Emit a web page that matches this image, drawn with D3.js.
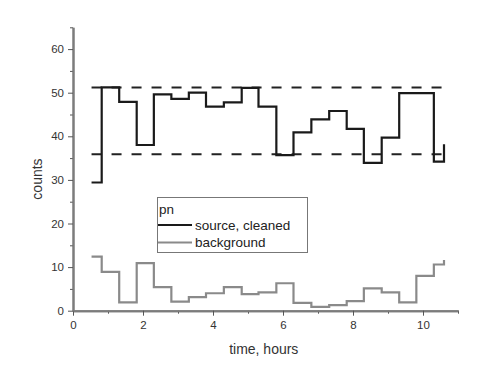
<!DOCTYPE html>
<html>
<head>
<meta charset="utf-8">
<script src="https://cdn.jsdelivr.net/npm/d3@7"></script>
<style>
  html, body { margin: 0; padding: 0; background: #fff; }
  svg { display: block; font-family: "Liberation Sans", Arial, sans-serif; }
</style>
</head>
<body>
<svg id="chart" width="488" height="388"></svg>
<script>
// Bin edges (hours) — step starts, last entry is the end of the final bin
const binEdges = [0.53, 0.82, 1.32, 1.82, 2.31, 2.81, 3.31, 3.80, 4.31, 4.82, 5.30, 5.81, 6.30, 6.81, 7.32, 7.82, 8.31, 8.82, 9.32, 9.81, 10.31, 10.60];
// source, cleaned (counts) per bin, last value is the closing end point
const sourceCounts = [29.4, 51.2, 47.9, 38.0, 49.6, 48.6, 50.0, 46.8, 47.8, 51.1, 46.8, 35.7, 40.9, 43.9, 45.8, 41.7, 33.9, 39.7, 49.9, 49.9, 34.2, 38.2];
// background (counts) per bin, last value is the closing end point
const backgroundCounts = [12.4, 8.9, 1.9, 10.9, 5.4, 2.1, 3.1, 4.0, 5.4, 3.8, 4.2, 6.3, 1.8, 0.9, 1.3, 2.2, 5.1, 4.2, 1.9, 8.0, 10.6, 11.6];
// dashed reference levels
const refLevels = [51.2, 35.9];
const refRange = [0.53, 10.62];
// ticks
const xMajor = [0, 2, 4, 6, 8, 10];
const xMinor = [1, 3, 5, 7, 9, 11];
const yMajor = [0, 10, 20, 30, 40, 50, 60];
const yMinor = [5, 15, 25, 35, 45, 55, 65];
const legendTitle = "pn";
const seriesNames = ["source, cleaned", "background"];

const svg = d3.select("#chart");
const x = d3.scaleLinear().domain([0, 11]).range([73, 458]);
const y = d3.scaleLinear().domain([0, 65]).range([310.7, 27.3]);

const axisColor = "#7c7c7c";
const textColor = "#333";

// dashed reference lines
svg.append("g").selectAll("line").data(refLevels).join("line")
  .attr("x1", x(refRange[0])).attr("x2", x(refRange[1]))
  .attr("y1", d => y(d)).attr("y2", d => y(d))
  .attr("stroke", "#222").attr("stroke-width", 2)
  .attr("stroke-dasharray", "10,10");

// step lines
const line = d3.line().curve(d3.curveStepAfter).x(d => x(d[0])).y(d => y(d[1]));
const bgPts = binEdges.map((t, i) => [t, backgroundCounts[i]]);
const srcPts = binEdges.map((t, i) => [t, sourceCounts[i]]);

svg.append("path").attr("d", line(bgPts)).attr("fill", "none")
  .attr("stroke", "#8a8a8a").attr("stroke-width", 2.2);
svg.append("path").attr("d", line(srcPts)).attr("fill", "none")
  .attr("stroke", "#1a1a1a").attr("stroke-width", 2.2);

// axes
const xAxis = d3.axisBottom(x).tickValues(xMajor).tickSize(5).tickSizeOuter(0).tickFormat(d3.format("d"));
const xMinorAxis = d3.axisBottom(x).tickValues(xMinor).tickSize(3).tickSizeOuter(0).tickFormat("");
const yAxis = d3.axisLeft(y).tickValues(yMajor).tickSize(5).tickSizeOuter(0).tickFormat(d3.format("d"));
const yMinorAxis = d3.axisLeft(y).tickValues(yMinor).tickSize(3).tickSizeOuter(0).tickFormat("");

function styleAxis(g) {
  g.select(".domain").attr("stroke", axisColor).attr("stroke-width", 2);
  g.selectAll(".tick line").attr("stroke", "#555").attr("stroke-width", 1);
  g.selectAll(".tick text").attr("fill", textColor).style("font-size", "11.5px");
}

svg.append("g").attr("transform", `translate(0,${y(0)})`).call(xMinorAxis).call(styleAxis);
svg.append("g").attr("transform", `translate(0,${y(0)})`).call(xAxis).call(styleAxis)
  .selectAll(".tick text").attr("dy", "0.9em");
svg.append("g").attr("transform", `translate(${x(0)},0)`).call(yMinorAxis).call(styleAxis);
svg.append("g").attr("transform", `translate(${x(0)},0)`).call(yAxis).call(styleAxis)
  .selectAll(".tick text").attr("x", -9);

// axis titles
svg.append("text").attr("x", x(5.45)).attr("y", 354)
  .attr("text-anchor", "middle").attr("fill", textColor).style("font-size", "14px")
  .text("time, hours");
svg.append("text").attr("transform", `translate(42,${179}) rotate(-90)`)
  .attr("text-anchor", "middle").attr("fill", textColor).style("font-size", "14px")
  .text("counts");

// legend
const lg = svg.append("g");
lg.append("rect").attr("x", 157.5).attr("y", 197.5).attr("width", 150).attr("height", 55)
  .attr("fill", "#fff").attr("stroke", "#777").attr("stroke-width", 1);
lg.append("text").attr("x", 159).attr("y", 214).attr("fill", "#222").style("font-size", "13.5px").text(legendTitle);
const legColors = ["#1a1a1a", "#8a8a8a"];
const legY = [225, 242.5];
seriesNames.forEach((n, i) => {
  lg.append("line").attr("x1", 158).attr("x2", 192).attr("y1", legY[i]).attr("y2", legY[i])
    .attr("stroke", legColors[i]).attr("stroke-width", 2);
  lg.append("text").attr("x", 195).attr("y", legY[i] + 4.5).attr("fill", "#222")
    .style("font-size", "13.5px").text(n);
});
</script>
</body>
</html>
